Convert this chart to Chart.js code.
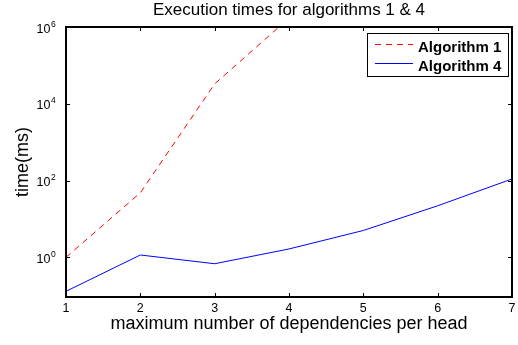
<!DOCTYPE html>
<html>
<head>
<meta charset="utf-8">
<script src="https://cdn.jsdelivr.net/npm/chart.js@4/dist/chart.umd.min.js"></script>
<style>
  html, body { margin: 0; padding: 0; background: #fff; }
</style>
</head>
<body>
<canvas id="timesChart" width="518" height="345"></canvas>
<script>
// data
const dependencies = ["1", "2", "3", "4", "5", "6", "7"]
const algorithm1Times = [1.0, 48, 33000, 1.7e6, null, null, null]
const algorithm4Times = [0.13, 1.15, 0.68, 1.65, 5.0, 22, 110]
const timeTicks = [1, 1e2, 1e4, 1e6]
const timeTickExponents = ["0", "2", "4", "6"]

const FONT = "'Liberation Sans', Arial, Helvetica, sans-serif"

function line(ctx, x1, y1, x2, y2) {
  ctx.beginPath()
  ctx.moveTo(x1, y1)
  ctx.lineTo(x2, y2)
  ctx.stroke()
}

// MATLAB-like box, inward ticks, 10^n labels and legend inside the axes
const matlabAxes = {
  id: "matlabAxes",
  afterDatasetsDraw(chart) {
    const { ctx, chartArea: { left, right, top, bottom }, scales: { x, y } } = chart
    ctx.save()

    // ticks on all four sides
    ctx.strokeStyle = "#000"
    ctx.lineWidth = 1
    x.ticks.forEach((t, i) => {
      const px = Math.round(x.getPixelForTick(i)) + 0.5
      line(ctx, px, bottom, px, bottom - 4)
      line(ctx, px, top, px, top + 4)
    })
    y.ticks.forEach((t) => {
      const py = Math.round(y.getPixelForValue(t.value)) + 0.5
      line(ctx, left, py, left + 4, py)
      line(ctx, right, py, right - 4, py)
    })

    // box
    ctx.lineWidth = 2
    ctx.strokeRect(left, top, right - left, bottom - top)

    // tick labels
    ctx.fillStyle = "#000"
    ctx.font = "12.5px " + FONT
    ctx.textAlign = "center"
    ctx.textBaseline = "alphabetic"
    x.ticks.forEach((t, i) => {
      ctx.fillText(dependencies[i], x.getPixelForTick(i), bottom + 15)
    })
    y.ticks.forEach((t, i) => {
      const py = y.getPixelForValue(t.value)
      ctx.font = "12.5px " + FONT
      ctx.textAlign = "right"
      ctx.fillText("10", left - 15.5, py + 5.5)
      ctx.font = "8.5px " + FONT
      ctx.textAlign = "left"
      ctx.fillText(timeTickExponents[i], left - 15, py - 0.5)
    })

    // legend
    const lx = 367, ly = 33, lw = 141, lh = 43
    ctx.fillStyle = "#fff"
    ctx.fillRect(lx, ly, lw, lh)
    ctx.lineWidth = 1
    ctx.strokeStyle = "#000"
    ctx.strokeRect(lx + 0.5, ly + 0.5, lw, lh)
    chart.data.datasets.forEach((ds, i) => {
      const rowY = 44.5 + i * 19
      ctx.strokeStyle = ds.borderColor
      ctx.lineWidth = ds.borderWidth
      ctx.setLineDash(ds.borderDash || [])
      line(ctx, 375, rowY, 413, rowY)
      ctx.setLineDash([])
      ctx.fillStyle = "#000"
      ctx.font = "bold 15px " + FONT
      ctx.textAlign = "left"
      ctx.fillText(ds.label, 418, 52 + i * 18.7)
    })

    ctx.restore()
  },
}

const ctx = document.getElementById("timesChart")

new Chart(ctx, {
  type: "line",
  data: {
    labels: dependencies,
    datasets: [
      {
        label: "Algorithm 1",
        data: algorithm1Times,
        borderColor: "#ff0000",
        borderWidth: 1,
        borderDash: [6, 5],
        pointRadius: 0,
        fill: false,
        tension: 0,
      },
      {
        label: "Algorithm 4",
        data: algorithm4Times,
        borderColor: "#0000ff",
        borderWidth: 1,
        pointRadius: 0,
        fill: false,
        tension: 0,
      },
    ],
  },
  options: {
    responsive: false,
    animation: false,
    devicePixelRatio: 1,
    layout: { padding: { left: 0, right: 6, top: 0, bottom: 0 } },
    plugins: {
      legend: { display: false },
      tooltip: { enabled: false },
      title: {
        display: true,
        text: "Execution times for algorithms 1 & 4",
        fullSize: false,
        color: "#000",
        font: { family: FONT, size: 17, weight: "normal", lineHeight: 1.2 },
        padding: { top: 0, bottom: 6.6 },
      },
    },
    scales: {
      x: {
        type: "category",
        offset: false,
        grid: { display: false },
        border: { display: false },
        ticks: { display: false },
        title: {
          display: true,
          text: "maximum number of dependencies per head",
          color: "#000",
          font: { family: FONT, size: 18, lineHeight: 1.2 },
          padding: { top: 0, bottom: 10 },
        },
        afterFit: (scale) => { scale.height = 48 },
      },
      y: {
        type: "logarithmic",
        min: 0.0925,
        max: 1e6,
        grid: { display: false },
        border: { display: false },
        ticks: { display: false },
        afterBuildTicks: (scale) => {
          scale.ticks = timeTicks.map((v) => ({ value: v }))
        },
        title: {
          display: true,
          text: "time(ms)",
          color: "#000",
          font: { family: FONT, size: 18, lineHeight: 1.2 },
          padding: { top: 12, bottom: 0 },
        },
        afterFit: (scale) => { scale.width = 66 },
      },
    },
  },
  plugins: [matlabAxes],
})
</script>
</body>
</html>
